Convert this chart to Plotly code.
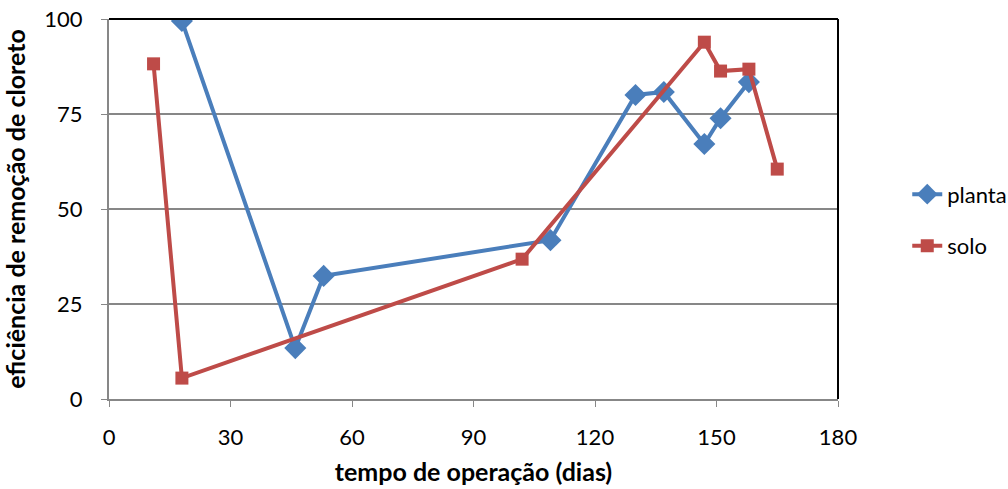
import plotly.graph_objects as go

planta_x = [18, 46, 53, 109, 130, 137, 147, 151, 158]
planta_y = [99.5, 13.4, 32.4, 41.8, 80.0, 80.8, 67.1, 73.9, 83.4]
solo_x = [11, 18, 102, 147, 151, 158, 165]
solo_y = [88.2, 5.5, 36.8, 93.9, 86.3, 86.8, 60.5]
x_ticks = [0, 30, 60, 90, 120, 150, 180]
y_ticks = [0, 25, 50, 75, 100]

FONT = "Lato"
fig = go.Figure()
fig.add_trace(go.Scatter(x=planta_x, y=planta_y, mode="lines+markers", name="planta",
                         legendgroup="a",
                         line=dict(color="#4A7EBB", width=4),
                         marker=dict(symbol="diamond", size=17, color="#4A7EBB")))
fig.add_trace(go.Scatter(x=solo_x, y=solo_y, mode="lines+markers", name="solo",
                         legendgroup="b",
                         line=dict(color="#BE4B48", width=4),
                         marker=dict(symbol="square", size=13, color="#BE4B48")))

fig.update_layout(
    width=1008, height=489,
    margin=dict(l=109, r=170, t=19, b=90, autoexpand=False),
    plot_bgcolor="white", paper_bgcolor="white",
    font=dict(family=FONT, size=22, color="black"),
    legend=dict(x=1.095, y=0.47, xanchor="left", yanchor="middle",
                font=dict(family=FONT, size=22), tracegroupgap=20,
                bgcolor="rgba(0,0,0,0)"),
    xaxis=dict(range=[0, 180], tickvals=x_ticks, showgrid=False,
               showline=True, linecolor="#878787", linewidth=2,
               ticks="outside", ticklen=6, tickcolor="#878787",
               zeroline=False, automargin=False, ticklabelstandoff=12,
               title=dict(text="<b>tempo de operação (dias)</b>", font=dict(size=25), standoff=14)),
    yaxis=dict(range=[0, 100], tickvals=y_ticks, showgrid=True, gridcolor="#878787", gridwidth=1.5,
               showline=True, linecolor="#878787", linewidth=2,
               ticks="outside", ticklen=6, tickcolor="#878787",
               zeroline=False, automargin=False, ticklabelstandoff=14,
               title=dict(text="<b>eficiência de remoção de cloreto</b>", font=dict(size=25), standoff=14)),
    shapes=[
        dict(type="line", xref="paper", yref="paper", x0=0, x1=1, y0=1, y1=1,
             line=dict(color="black", width=2)),
        dict(type="line", xref="paper", yref="paper", x0=1, x1=1, y0=0, y1=1,
             line=dict(color="black", width=2)),
    ],
)
fig.write_html("out.html")
